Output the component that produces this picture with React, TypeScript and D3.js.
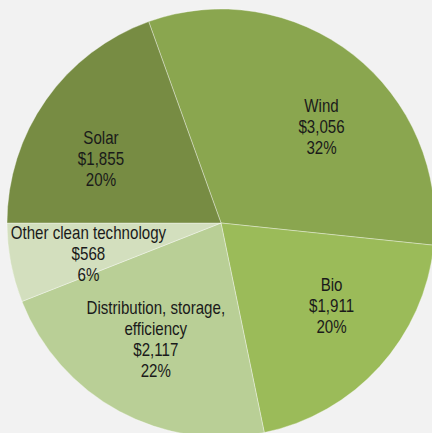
import { useMemo } from 'react';
import { pie, arc, PieArcDatum } from 'd3';

const categories = ['Wind', 'Bio', 'Distribution, storage, efficiency', 'Other clean technology', 'Solar'];
const amounts = [3056, 1911, 2117, 568, 1855];
const shares = ['32%', '20%', '22%', '6%', '20%'];
const labelLines = [['Wind'], ['Bio'], ['Distribution, storage,', 'efficiency'], ['Other clean technology'], ['Solar']];
const fills = ['#8aa64f', '#9bbb59', '#b9cf96', '#d3dfbe', '#778c43'];

const width = 432;
const height = 433;
const cx = 221;
const cy = 223;
const radius = 214;
const labelRadius = 137;
const lineHeight = 21;
const fontSize = 18;
const squeeze = 0.84; // fake a condensed face

// small hand nudges, like the moved labels in the original
const nudge: Record<string, [number, number]> = {
  Wind: [16, 11],
  Bio: [9, -9],
  'Distribution, storage, efficiency': [0, -4],
  'Other clean technology': [2, 5],
  Solar: [-8, 14],
};

type Slice = { name: string; value: number; share: string; lines: string[]; fill: string };

const money = (v: number) => '$' + v.toLocaleString('en-US');

export default function App() {
  const data: Slice[] = categories.map((name, i) => ({
    name,
    value: amounts[i],
    share: shares[i],
    lines: labelLines[i],
    fill: fills[i],
  }));

  const total = amounts.reduce((a, b) => a + b, 0);
  // solar ends at the horizontal left edge
  const solarFrac = amounts[4] / total;
  const start = -Math.PI / 2 + solarFrac * 2 * Math.PI;

  const arcs = useMemo(
    () =>
      pie<Slice>()
        .sort(null)
        .value((d) => d.value)
        .startAngle(start)
        .endAngle(start + 2 * Math.PI)(data),
    [start]
  );

  const slice = arc<PieArcDatum<Slice>>().innerRadius(0).outerRadius(radius);
  const labelArc = arc<PieArcDatum<Slice>>().innerRadius(labelRadius).outerRadius(labelRadius);

  return (
    <svg
      width={width}
      height={height}
      style={{ position: 'absolute', left: 0, top: 0, background: '#f2f2f2' }}
    >
      <g transform={`translate(${cx}, ${cy})`}>
        {arcs.map((a, i) => (
          <path key={i} d={slice(a) || ''} fill={a.data.fill} stroke="#ffffff" strokeOpacity={0.45} strokeWidth={0.8} />
        ))}
        {arcs.map((a, i) => {
          const [x, y] = labelArc.centroid(a);
          const [nx, ny] = nudge[a.data.name];
          const lines = [...a.data.lines, money(a.data.value), a.data.share];
          const top = -((lines.length - 1) * lineHeight) / 2 + fontSize * 0.36;
          return (
            <g key={'t' + i} transform={`translate(${x + nx}, ${y + ny}) scale(${squeeze}, 1)`}>
              <text
                textAnchor="middle"
                fontFamily="'Liberation Sans', Arial, sans-serif"
                fontSize={fontSize}
                fill="#1a1a1a"
              >
                {lines.map((l, j) => (
                  <tspan key={j} x={0} y={top + j * lineHeight}>
                    {l}
                  </tspan>
                ))}
              </text>
            </g>
          );
        })}
      </g>
    </svg>
  );
}
